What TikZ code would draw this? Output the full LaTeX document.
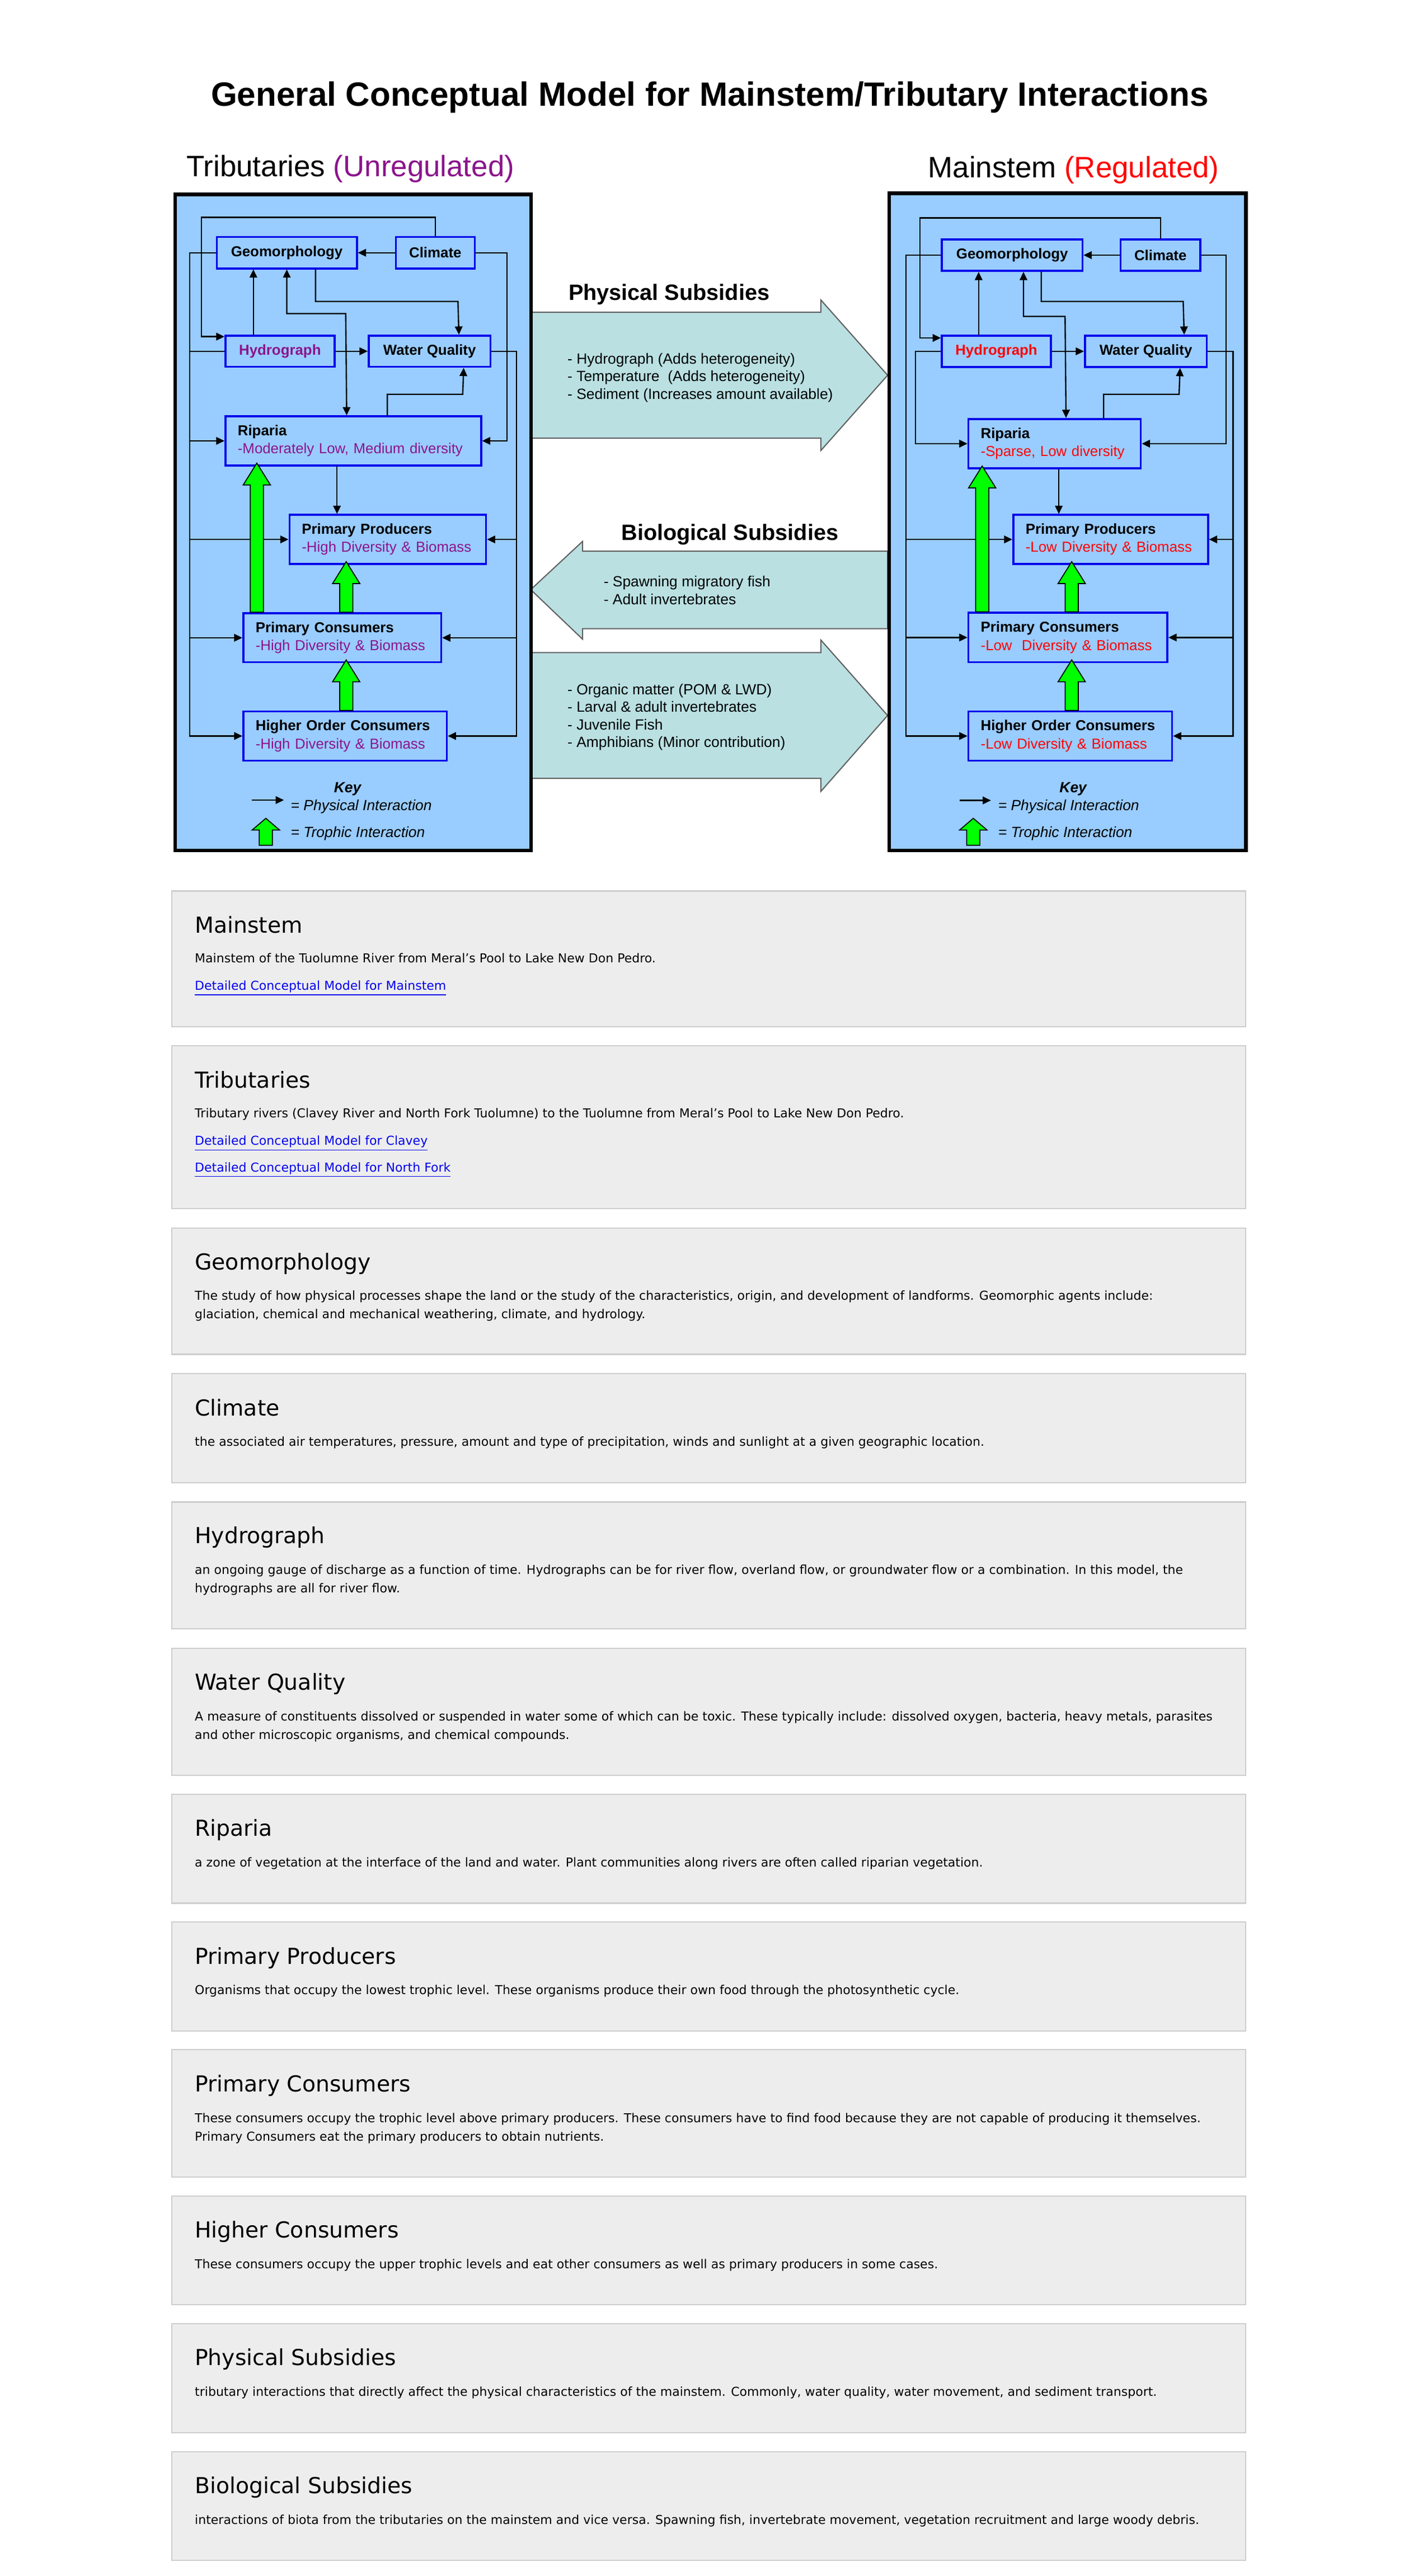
\documentclass[tikz,border=0pt]{standalone}
\usepackage{fontspec}
\setmainfont{Liberation Sans}
\newfontfamily\notefont{DejaVu Sans}
\usetikzlibrary{positioning,calc,arrows.meta}

\definecolor{panelblue}{RGB}{153,204,255}
\definecolor{boxblue}{RGB}{0,0,235}
\definecolor{tribcol}{RGB}{140,20,140}
\definecolor{maincol}{RGB}{255,0,0}
\definecolor{subsfill}{RGB}{186,224,226}
\definecolor{subsedge}{RGB}{95,95,95}
\definecolor{trophgreen}{RGB}{0,255,0}
\definecolor{notefill}{RGB}{237,237,237}
\definecolor{noteedge}{RGB}{205,205,205}
\definecolor{linkcol}{RGB}{0,0,238}

\tikzset{
  panel/.style={draw=black, line width=2.2pt, fill=panelblue, anchor=north west, inner sep=0pt},
  cbox/.style={draw=boxblue, line width=1.2pt, inner sep=0pt, anchor=north west, font=\fontsize{8.8}{11}\selectfont\bfseries},
  tbox/.style={cbox, align=left, inner xsep=7.5pt, font=\fontsize{8.8}{11}\selectfont},
  phys/.style={line width=0.8pt, -{Triangle[length=5pt,width=4.6pt]}},
  physboth/.style={line width=0.8pt, {Triangle[length=5pt,width=4.6pt]}-{Triangle[length=5pt,width=4.6pt]}},
  trophic/.style={fill=trophgreen, draw=black, line width=0.6pt},
  subsarrow/.style={fill=subsfill, draw=subsedge, line width=0.7pt},
  subshead/.style={anchor=base, font=\fontsize{13.5}{16}\selectfont\bfseries},
  subslist/.style={anchor=north west, align=left, inner sep=0pt, font=\fontsize{9}{10.7}\selectfont},
  keyhead/.style={inner sep=0pt, font=\fontsize{9}{11}\selectfont\bfseries\itshape},
  keytext/.style={anchor=west, inner sep=0pt, font=\fontsize{9}{11}\selectfont\itshape},
  notebox/.style={draw=noteedge, line width=0.7pt, fill=notefill, anchor=north west, minimum width=653.5pt, inner sep=0pt},
  notehead/.style={anchor=base west, inner sep=0pt, font=\notefont\fontsize{13.4}{16}\selectfont},
  notetext/.style={anchor=base west, inner sep=0pt, font=\notefont\fontsize{7.5}{11}\selectfont},
  notelink/.style={notetext, text=linkcol}
}

% fat green arrow: base point, tip point, head length
\newcommand{\fatarrow}[3]{%
  \draw[trophic] ($(#1)+(-4,0)$) -- ($(#2)+(-4,#3)$) -- ($(#2)+(-8.3,#3)$) -- (#2)
    -- ($(#2)+(8.3,#3)$) -- ($(#2)+(4,#3)$) -- ($(#1)+(4,0)$) -- cycle;}

\begin{document}
\begin{tikzpicture}[x=1pt,y=-1pt]
\path[use as bounding box, fill=white] (0,0) rectangle (863,1568);

\node[anchor=base, font=\fontsize{20.5}{24}\selectfont\bfseries] (title) at (432,64.7) {General Conceptual Model for Mainstem/Tributary Interactions};
\node[anchor=base, font=\fontsize{18}{22}\selectfont] (tribHead) at (213.3,107.6) {Tributaries \textcolor{tribcol}{(Unregulated)}};
\node[anchor=base, font=\fontsize{18}{22}\selectfont] (mainHead) at (653.4,108.2) {Mainstem \textcolor{maincol}{(Regulated)}};

% subsidies between the two panels
\draw[subsarrow] (323,190.1) -- (499.6,190.1) -- (499.6,182.6) -- (540.2,228.4) -- (499.6,274.2) -- (499.6,266.7) -- (323,266.7) -- cycle;
\draw[subsarrow] (540.2,335.5) -- (354.6,335.5) -- (354.6,329.5) -- (323,358.9) -- (354.6,389.1) -- (354.6,382.7) -- (540.2,382.7) -- cycle;
\draw[subsarrow] (323,397.2) -- (499.6,397.2) -- (499.6,389.6) -- (540.2,435.5) -- (499.6,481.7) -- (499.6,473.8) -- (323,473.8) -- cycle;
\node[subshead] (physHead) at (407.2,182.7) {Physical Subsidies};
\node[subshead] (bioHead) at (444.2,328.9) {Biological Subsidies};
\node[subslist] (physList) at (345.2,214.8) {- Hydrograph (Adds heterogeneity)\\- Temperature\ \ (Adds heterogeneity)\\- Sediment (Increases amount available)};
\node[subslist] (bioList) at (367.2,350.5) {- Spawning migratory fish\\- Adult invertebrates};
\node[subslist] (bioList2) at (345.2,416.0) {- Organic matter (POM \& LWD)\\- Larval \& adult invertebrates\\- Juvenile Fish\\- Amphibians (Minor contribution)};

% panels
\node[panel, minimum width=216.6pt, minimum height=399.3pt] (tribPanel) at (105.5,117.2) {};
\node[panel, minimum width=217.1pt, minimum height=399.9pt] (mainPanel) at (540,116.6) {};

% tributaries boxes
\node[cbox, minimum width=85.3pt, minimum height=19.1pt] (geoL) at (131.3,143.7) {Geomorphology};
\node[cbox, minimum width=48pt, minimum height=19.1pt] (cliL) at (240.3,143.7) {Climate};
\node[cbox, minimum width=66.4pt, minimum height=19pt, text=tribcol] (hydL) at (136.6,203.7) {Hydrograph};
\node[cbox, minimum width=74.1pt, minimum height=19pt] (wqL) at (223.8,203.7) {Water Quality};
\node[tbox, text width=140.6pt, minimum height=29.9pt] (ripL) at (136.6,252.8) {\textbf{Riparia}\\\textcolor{tribcol}{-Moderately Low, Medium diversity}};
\node[tbox, text width=104.6pt, minimum height=29.9pt] (ppL) at (175.6,312.8) {\textbf{Primary Producers}\\\textcolor{tribcol}{-High Diversity \& Biomass}};
\node[tbox, text width=105.4pt, minimum height=29.8pt] (pcL) at (147.5,372.7) {\textbf{Primary Consumers}\\\textcolor{tribcol}{-High Diversity \& Biomass}};
\node[tbox, text width=108.8pt, minimum height=30pt] (hoL) at (147.5,432.4) {\textbf{Higher Order Consumers}\\\textcolor{tribcol}{-High Diversity \& Biomass}};

% mainstem boxes
\node[cbox, minimum width=85.6pt, minimum height=19.2pt] (geoR) at (572.6,145.1) {Geomorphology};
\node[cbox, minimum width=48.5pt, minimum height=19.2pt] (cliR) at (681.4,145.1) {Climate};
\node[cbox, minimum width=66.4pt, minimum height=19.1pt, text=maincol] (hydR) at (572.6,203.7) {Hydrograph};
\node[cbox, minimum width=74.1pt, minimum height=19.1pt] (wqR) at (659.7,203.7) {Water Quality};
\node[tbox, text width=89.9pt, minimum height=30.1pt] (ripR) at (588.8,254.4) {\textbf{Riparia}\\\textcolor{maincol}{-Sparse, Low diversity}};
\node[tbox, text width=103.5pt, minimum height=29.9pt] (ppR) at (616.1,312.8) {\textbf{Primary Producers}\\\textcolor{maincol}{-Low Diversity \& Biomass}};
\node[tbox, text width=106.1pt, minimum height=30.1pt] (pcR) at (588.8,372.4) {\textbf{Primary Consumers}\\\textcolor{maincol}{-Low\ \ Diversity \& Biomass}};
\node[tbox, text width=108.9pt, minimum height=30pt] (hoR) at (588.8,432.4) {\textbf{Higher Order Consumers}\\\textcolor{maincol}{-Low Diversity \& Biomass}};

% tributaries: physical interactions
\coordinate (lbusL) at (115.5,0);
\coordinate (cbusL) at (308.5,0);
\coordinate (rbusL) at (314.4,0);
\draw[phys] (cliL.north) |- (122.6,132.3) |- ([yshift=-1.2pt]hydL.north west);
\draw[phys] (cliL.west) -- (geoL.east);
\draw[phys] (cliL.east) -| (cbusL |- ripL.east) -- (ripL.east);
\draw[phys] (geoL.west) -| (lbusL |- hoL.west) -- (hoL.west);
\draw[line width=0.8pt] (hydL.west) -- (lbusL |- hydL.west);
\draw[phys] (lbusL |- ripL.west) -- (ripL.west);
\draw[phys] (lbusL |- ppL.west) -- (ppL.west);
\draw[phys] (lbusL |- pcL.west) -- (pcL.west);
\draw[phys] ([xshift=17.5pt]geoL.south) |- (278.7,183.5) -- ([xshift=17.85pt]wqL.north);
\draw[physboth] (geoL.south) |- (210.4,190.9) -- ([xshift=-4pt]ripL.north);
\coordinate (hgL) at ([xshift=-16.2pt]hydL.north);
\draw[phys] (hgL) -- (hgL |- geoL.south);
\draw[phys] (hydL.east) -- (wqL.west);
\draw[phys] ([xshift=20.7pt]ripL.north) |- (281.6,240) -- ([xshift=20.75pt]wqL.south);
\draw[phys] ([xshift=-9.9pt]ripL.south) -- ([xshift=-30.9pt]ppL.north);
\draw[phys] (wqL.east) -| (rbusL |- hoL.east) -- (hoL.east);
\draw[phys] (rbusL |- ppL.east) -- (ppL.east);
\draw[phys] (rbusL |- pcL.east) -- (pcL.east);

% mainstem: physical interactions
\coordinate (lbusR) at (551.4,0);
\coordinate (hbusR) at (557.1,0);
\coordinate (cbusR) at (746.1,0);
\coordinate (rbusR) at (750.4,0);
\draw[phys] (cliR.north) |- (559.9,132.6) |- ([yshift=-2pt]hydR.north west);
\draw[phys] (cliR.west) -- (geoR.east);
\draw[phys] (cliR.east) -| (cbusR |- ripR.east) -- (ripR.east);
\draw[phys] (geoR.west) -| (lbusR |- hoR.west) -- (hoR.west);
\draw[phys] (lbusR |- ppR.west) -- (ppR.west);
\draw[phys] (lbusR |- pcR.west) -- (pcR.west);
\draw[phys] (hydR.west) -| (hbusR |- ripR.west) -- (ripR.west);
\draw[phys] ([xshift=17.7pt]geoR.south) |- (720.1,183.5) -- ([xshift=23.35pt]wqR.north);
\draw[physboth] ([xshift=6.9pt]geoR.south) |- (648.2,192.6) -- ([xshift=6.95pt]ripR.north);
\coordinate (hgR) at ([xshift=-10.8pt]hydR.north);
\draw[phys] (hgR) -- (hgR |- geoR.south);
\draw[phys] (hydR.east) -- (wqR.west);
\draw[phys] ([xshift=29.85pt]ripR.north) |- (717.6,240) -- ([xshift=20.85pt]wqR.south);
\draw[phys] ([xshift=2.55pt]ripR.south) -- ([xshift=-31.55pt]ppR.north);
\draw[phys] (wqR.east) -| (rbusR |- hoR.east) -- (hoR.east);
\draw[phys] (rbusR |- ppR.east) -- (ppR.east);
\draw[phys] (rbusR |- pcR.east) -- (pcR.east);

% trophic interactions
\coordinate (trL1) at ($(pcL.north west)+(8.8,0)$);
\coordinate (trL1t) at ($(trL1 |- ripL.south)+(0,-2)$);
\coordinate (trL2) at ($(pcL.north west)+(63.2,0)$);
\coordinate (trL2t) at ($(trL2 |- ppL.south)+(0,-2)$);
\coordinate (trL3) at ($(hoL.north west)+(63.2,0)$);
\coordinate (trL3t) at ($(trL3 |- pcL.south)+(0,-2)$);
\fatarrow{trL1}{trL1t}{13.3}
\fatarrow{trL2}{trL2t}{13.3}
\fatarrow{trL3}{trL3t}{13.3}
\coordinate (trR1) at ($(pcR.north west)+(8.95,0)$);
\coordinate (trR1t) at ($(trR1 |- ripR.south)+(0,-2)$);
\coordinate (trR2) at ($(pcR.north west)+(63.45,0)$);
\coordinate (trR2t) at ($(trR2 |- ppR.south)+(0,-2)$);
\coordinate (trR3) at ($(hoR.north west)+(63.45,0)$);
\coordinate (trR3t) at ($(trR3 |- pcR.south)+(0,-2)$);
\fatarrow{trR1}{trR1t}{13.3}
\fatarrow{trR2}{trR2t}{13.3}
\fatarrow{trR3}{trR3t}{13.3}

% keys
\node[keyhead] (keyL) at (211.5,480.4) {Key};
\coordinate (keyPLa) at (153.4,487);
\coordinate (keyPLb) at (172.8,487);
\draw[phys] (keyPLa) -- (keyPLb);
\node[keytext] (keyPLt) at (176.8,490.9) {= Physical Interaction};
\coordinate (keyTL) at (161.8,514.5);
\coordinate (keyTLt) at (161.8,498.1);
\fatarrow{keyTL}{keyTLt}{7.1}
\node[keytext] (keyTLx) at (176.8,507.4) {= Trophic Interaction};
\node[keyhead] (keyR) at (653.1,480.4) {Key};
\coordinate (keyPRa) at (584.2,487.2);
\coordinate (keyPRb) at (603.1,487.2);
\draw[phys] (keyPRa) -- (keyPRb);
\node[keytext] (keyPRt) at (607.3,490.9) {= Physical Interaction};
\coordinate (keyTR) at (592.35,514.5);
\coordinate (keyTRt) at (592.35,498.1);
\fatarrow{keyTR}{keyTRt}{7.1}
\node[keytext] (keyTRx) at (607.3,507.4) {= Trophic Interaction};

% glossary boxes
\node[notebox, minimum height=82.7pt] (bMain) at (104.3,542) {};
\node[notehead] (hMain) at ($(bMain.north west)+(14.1,26)$) {Mainstem};
\node[notetext] (tMain) at ($(bMain.north west)+(14.1,44)$) {Mainstem of the Tuolumne River from Meral’s Pool to Lake New Don Pedro.};
\node[notelink] (lMain) at ($(bMain.north west)+(14.1,60.6)$) {\underline{Detailed Conceptual Model for Mainstem}};

\node[notebox, minimum height=99.2pt] (bTrib) at (104.3,636.2) {};
\node[notehead] (hTrib) at ($(bTrib.north west)+(14.1,26)$) {Tributaries};
\node[notetext] (tTrib) at ($(bTrib.north west)+(14.1,44)$) {Tributary rivers (Clavey River and North Fork Tuolumne) to the Tuolumne from Meral’s Pool to Lake New Don Pedro.};
\node[notelink] (lTrib1) at ($(bTrib.north west)+(14.1,60.9)$) {\underline{Detailed Conceptual Model for Clavey}};
\node[notelink] (lTrib2) at ($(bTrib.north west)+(14.1,77)$) {\underline{Detailed Conceptual Model for North Fork}};

\node[notebox, minimum height=76.9pt] (bGeo) at (104.3,747.1) {};
\node[notehead] (hGeo) at ($(bGeo.north west)+(14.1,25.7)$) {Geomorphology};
\node[notetext] (tGeo1) at ($(bGeo.north west)+(14.1,44.3)$) {The study of how physical processes shape the land or the study of the characteristics, origin, and development of landforms. Geomorphic agents include:};
\node[notetext] (tGeo2) at ($(bGeo.north west)+(14.1,55.4)$) {glaciation, chemical and mechanical weathering, climate, and hydrology.};

\node[notebox, minimum height=66.3pt] (bCli) at (104.3,835.9) {};
\node[notehead] (hCli) at ($(bCli.north west)+(14.1,25.9)$) {Climate};
\node[notetext] (tCli) at ($(bCli.north west)+(14.1,44.3)$) {the associated air temperatures, pressure, amount and type of precipitation, winds and sunlight at a given geographic location.};

\node[notebox, minimum height=77pt] (bHyd) at (104.3,913.9) {};
\node[notehead] (hHyd) at ($(bHyd.north west)+(14.1,25.7)$) {Hydrograph};
\node[notetext] (tHyd1) at ($(bHyd.north west)+(14.1,44.3)$) {an ongoing gauge of discharge as a function of time. Hydrographs can be for river flow, overland flow, or groundwater flow or a combination. In this model, the};
\node[notetext] (tHyd2) at ($(bHyd.north west)+(14.1,55.4)$) {hydrographs are all for river flow.};

\node[notebox, minimum height=77.4pt] (bWQ) at (104.3,1003) {};
\node[notehead] (hWQ) at ($(bWQ.north west)+(14.1,25.7)$) {Water Quality};
\node[notetext] (tWQ1) at ($(bWQ.north west)+(14.1,44.4)$) {A measure of constituents dissolved or suspended in water some of which can be toxic. These typically include: dissolved oxygen, bacteria, heavy metals, parasites};
\node[notetext] (tWQ2) at ($(bWQ.north west)+(14.1,55.5)$) {and other microscopic organisms, and chemical compounds.};

\node[notebox, minimum height=66.2pt] (bRip) at (104.3,1091.9) {};
\node[notehead] (hRip) at ($(bRip.north west)+(14.1,25.8)$) {Riparia};
\node[notetext] (tRip) at ($(bRip.north west)+(14.1,44.4)$) {a zone of vegetation at the interface of the land and water. Plant communities along rivers are often called riparian vegetation.};

\node[notebox, minimum height=66.4pt] (bPP) at (104.3,1169.6) {};
\node[notehead] (hPP) at ($(bPP.north west)+(14.1,25.8)$) {Primary Producers};
\node[notetext] (tPP) at ($(bPP.north west)+(14.1,44.4)$) {Organisms that occupy the lowest trophic level. These organisms produce their own food through the photosynthetic cycle.};

\node[notebox, minimum height=77.6pt] (bPC) at (104.3,1247.3) {};
\node[notehead] (hPC) at ($(bPC.north west)+(14.1,25.8)$) {Primary Consumers};
\node[notetext] (tPC1) at ($(bPC.north west)+(14.1,44.5)$) {These consumers occupy the trophic level above primary producers. These consumers have to find food because they are not capable of producing it themselves.};
\node[notetext] (tPC2) at ($(bPC.north west)+(14.1,55.8)$) {Primary Consumers eat the primary producers to obtain nutrients.};

\node[notebox, minimum height=66.1pt] (bHC) at (104.3,1336.3) {};
\node[notehead] (hHC) at ($(bHC.north west)+(14.1,25.8)$) {Higher Consumers};
\node[notetext] (tHC) at ($(bHC.north west)+(14.1,44.4)$) {These consumers occupy the upper trophic levels and eat other consumers as well as primary producers in some cases.};

\node[notebox, minimum height=66.5pt] (bPS) at (104.3,1414.1) {};
\node[notehead] (hPS) at ($(bPS.north west)+(14.1,25.8)$) {Physical Subsidies};
\node[notetext] (tPS) at ($(bPS.north west)+(14.1,44.4)$) {tributary interactions that directly affect the physical characteristics of the mainstem. Commonly, water quality, water movement, and sediment transport.};

\node[notebox, minimum height=66.1pt] (bBS) at (104.3,1492.1) {};
\node[notehead] (hBS) at ($(bBS.north west)+(14.1,25.8)$) {Biological Subsidies};
\node[notetext] (tBS) at ($(bBS.north west)+(14.1,44.4)$) {interactions of biota from the tributaries on the mainstem and vice versa. Spawning fish, invertebrate movement, vegetation recruitment and large woody debris.};
\end{tikzpicture}
\end{document}
